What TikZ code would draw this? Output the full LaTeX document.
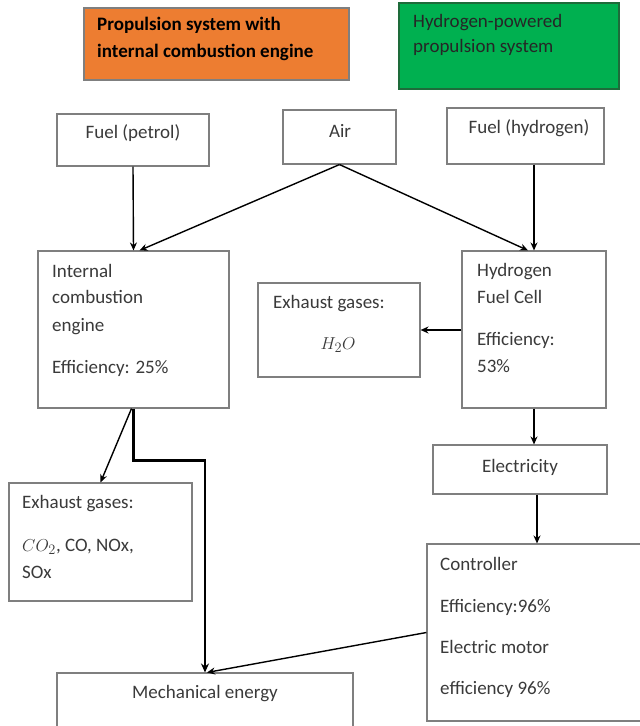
\documentclass[tikz,border=0pt]{standalone}
\usepackage{fontspec}
\setmainfont{Carlito}
\usetikzlibrary{arrows.meta,calc}
\definecolor{orangefill}{HTML}{ED7D31}
\definecolor{greenfill}{HTML}{00B050}
\definecolor{greenedge}{HTML}{1E6B3A}
\definecolor{boxedge}{HTML}{7F7F7F}
\definecolor{txtcol}{HTML}{3A3A3A}
\tikzset{
  box/.style={draw=boxedge, line width=1.1pt, fill=white, inner sep=0pt},
  txt/.style={text=txtcol, inner sep=0pt, font=\fontsize{19}{23}\selectfont, text height=14pt, text depth=4pt},
  ltxt/.style={txt, anchor=west},
  conn/.style={draw=black, line width=1.4pt, -{Stealth[length=8pt,width=7pt]}},
  thickconn/.style={draw=black, line width=2.4pt, -{Stealth[length=9pt,width=8pt]}}
}
\begin{document}
\begin{tikzpicture}[x=1pt,y=-1pt]
\useasboundingbox (0,0) rectangle (640,726);
\clip (0,0) rectangle (640,726);
% header boxes
\node[draw=boxedge, line width=1.1pt, fill=orangefill, minimum width=265, minimum height=72, inner sep=0pt] (orange) at (216.5,44) {};
\node[ltxt, text=black, font=\fontsize{19}{23}\selectfont\bfseries] (orangeA) at (97,25) {Propulsion system with};
\node[ltxt, text=black, font=\fontsize{19}{23}\selectfont\bfseries] (orangeB) at (97,52) {internal combustion engine};
\node[draw=greenedge, line width=1.1pt, fill=greenfill, minimum width=220, minimum height=86, inner sep=0pt] (green) at (509,46) {};
\node[ltxt, text=black!85] (greenA) at (413,22) {Hydrogen-powered};
\node[ltxt, text=black!85] (greenB) at (413,47) {propulsion system};
% inputs
\node[box, minimum width=152, minimum height=52] (petrol) at (133,140) {};
\node[txt] (petrolT) at (133,133) {Fuel (petrol)};
\node[box, minimum width=113, minimum height=54] (air) at (339.5,137) {};
\node[txt] (airT) at (340,132) {Air};
\node[box, minimum width=157, minimum height=56] (hyd) at (525.5,136) {};
\node[txt] (hydT) at (529,128) {Fuel (hydrogen)};
% ICE
\node[box, minimum width=191, minimum height=157] (ice) at (133.5,329.5) {};
\node[ltxt] (iceA) at (52,272) {Internal};
\node[ltxt] (iceB) at (52,298) {combustion};
\node[ltxt] (iceC) at (52,326) {engine};
\node[ltxt] (iceD) at (52,368) {Efficiency: 25\%};
% HFC
\node[box, minimum width=144, minimum height=157] (hfc) at (534,329.5) {};
\node[ltxt] (hfcA) at (477,271) {Hydrogen};
\node[ltxt] (hfcB) at (477,298) {Fuel Cell};
\node[ltxt] (hfcC) at (477,340) {Efficiency:};
\node[ltxt] (hfcD) at (477,367) {53\%};
% H2O exhaust
\node[box, minimum width=162, minimum height=94] (h2o) at (339,330) {};
\node[ltxt] (h2oA) at (273,303) {Exhaust gases:};
\node[txt] (h2oB) at (338,344) {$H_2O$};
% CO2 exhaust
\node[box, minimum width=183, minimum height=118] (exh) at (100.5,542) {};
\node[ltxt] (exhA) at (22,503) {Exhaust gases:};
\node[ltxt] (exhB) at (22,546) {$CO_2$, CO, NOx,};
\node[ltxt] (exhC) at (22,573) {SOx};
% electricity
\node[box, minimum width=174, minimum height=49] (elec) at (520,469.5) {};
\node[txt] (elecT) at (520,467) {Electricity};
% controller
\node[box, minimum width=233, minimum height=177] (ctrl) at (543.5,632.5) {};
\node[ltxt] (ctrlA) at (440,565) {Controller};
\node[ltxt] (ctrlB) at (440,607) {Efficiency:96\%};
\node[ltxt] (ctrlC) at (440,648) {Electric motor};
\node[ltxt] (ctrlD) at (440,689) {efficiency 96\%};
% mechanical energy
\node[box, minimum width=296, minimum height=67] (mech) at (205,706.5) {};
\node[txt] (mechT) at (205,693) {Mechanical energy};
% connectors
\draw[conn] (petrol.south) -- (ice.north);
\draw[conn] (air.south) -- ([xshift=6]ice.north);
\draw[conn] (air.south) -- ([xshift=-6]hfc.north);
\draw[conn] (hfc.north |- hyd.south) -- (hfc.north);
\draw[conn] (hfc.west |- h2o.east) -- (h2o.east);
\draw[conn] ([xshift=-2]ice.south) -- (exh.north);
\draw[thickconn] (ice.south) -- ++(0,52) -| (mech.north);
\draw[conn] (hfc.south) -- (hfc.south |- elec.north);
\draw[conn] ([xshift=3]hfc.south |- elec.south) -- ([xshift=3]hfc.south |- ctrl.north);
\draw[conn] (ctrl.west) -- ([xshift=2]mech.north);
\end{tikzpicture}
\end{document}
